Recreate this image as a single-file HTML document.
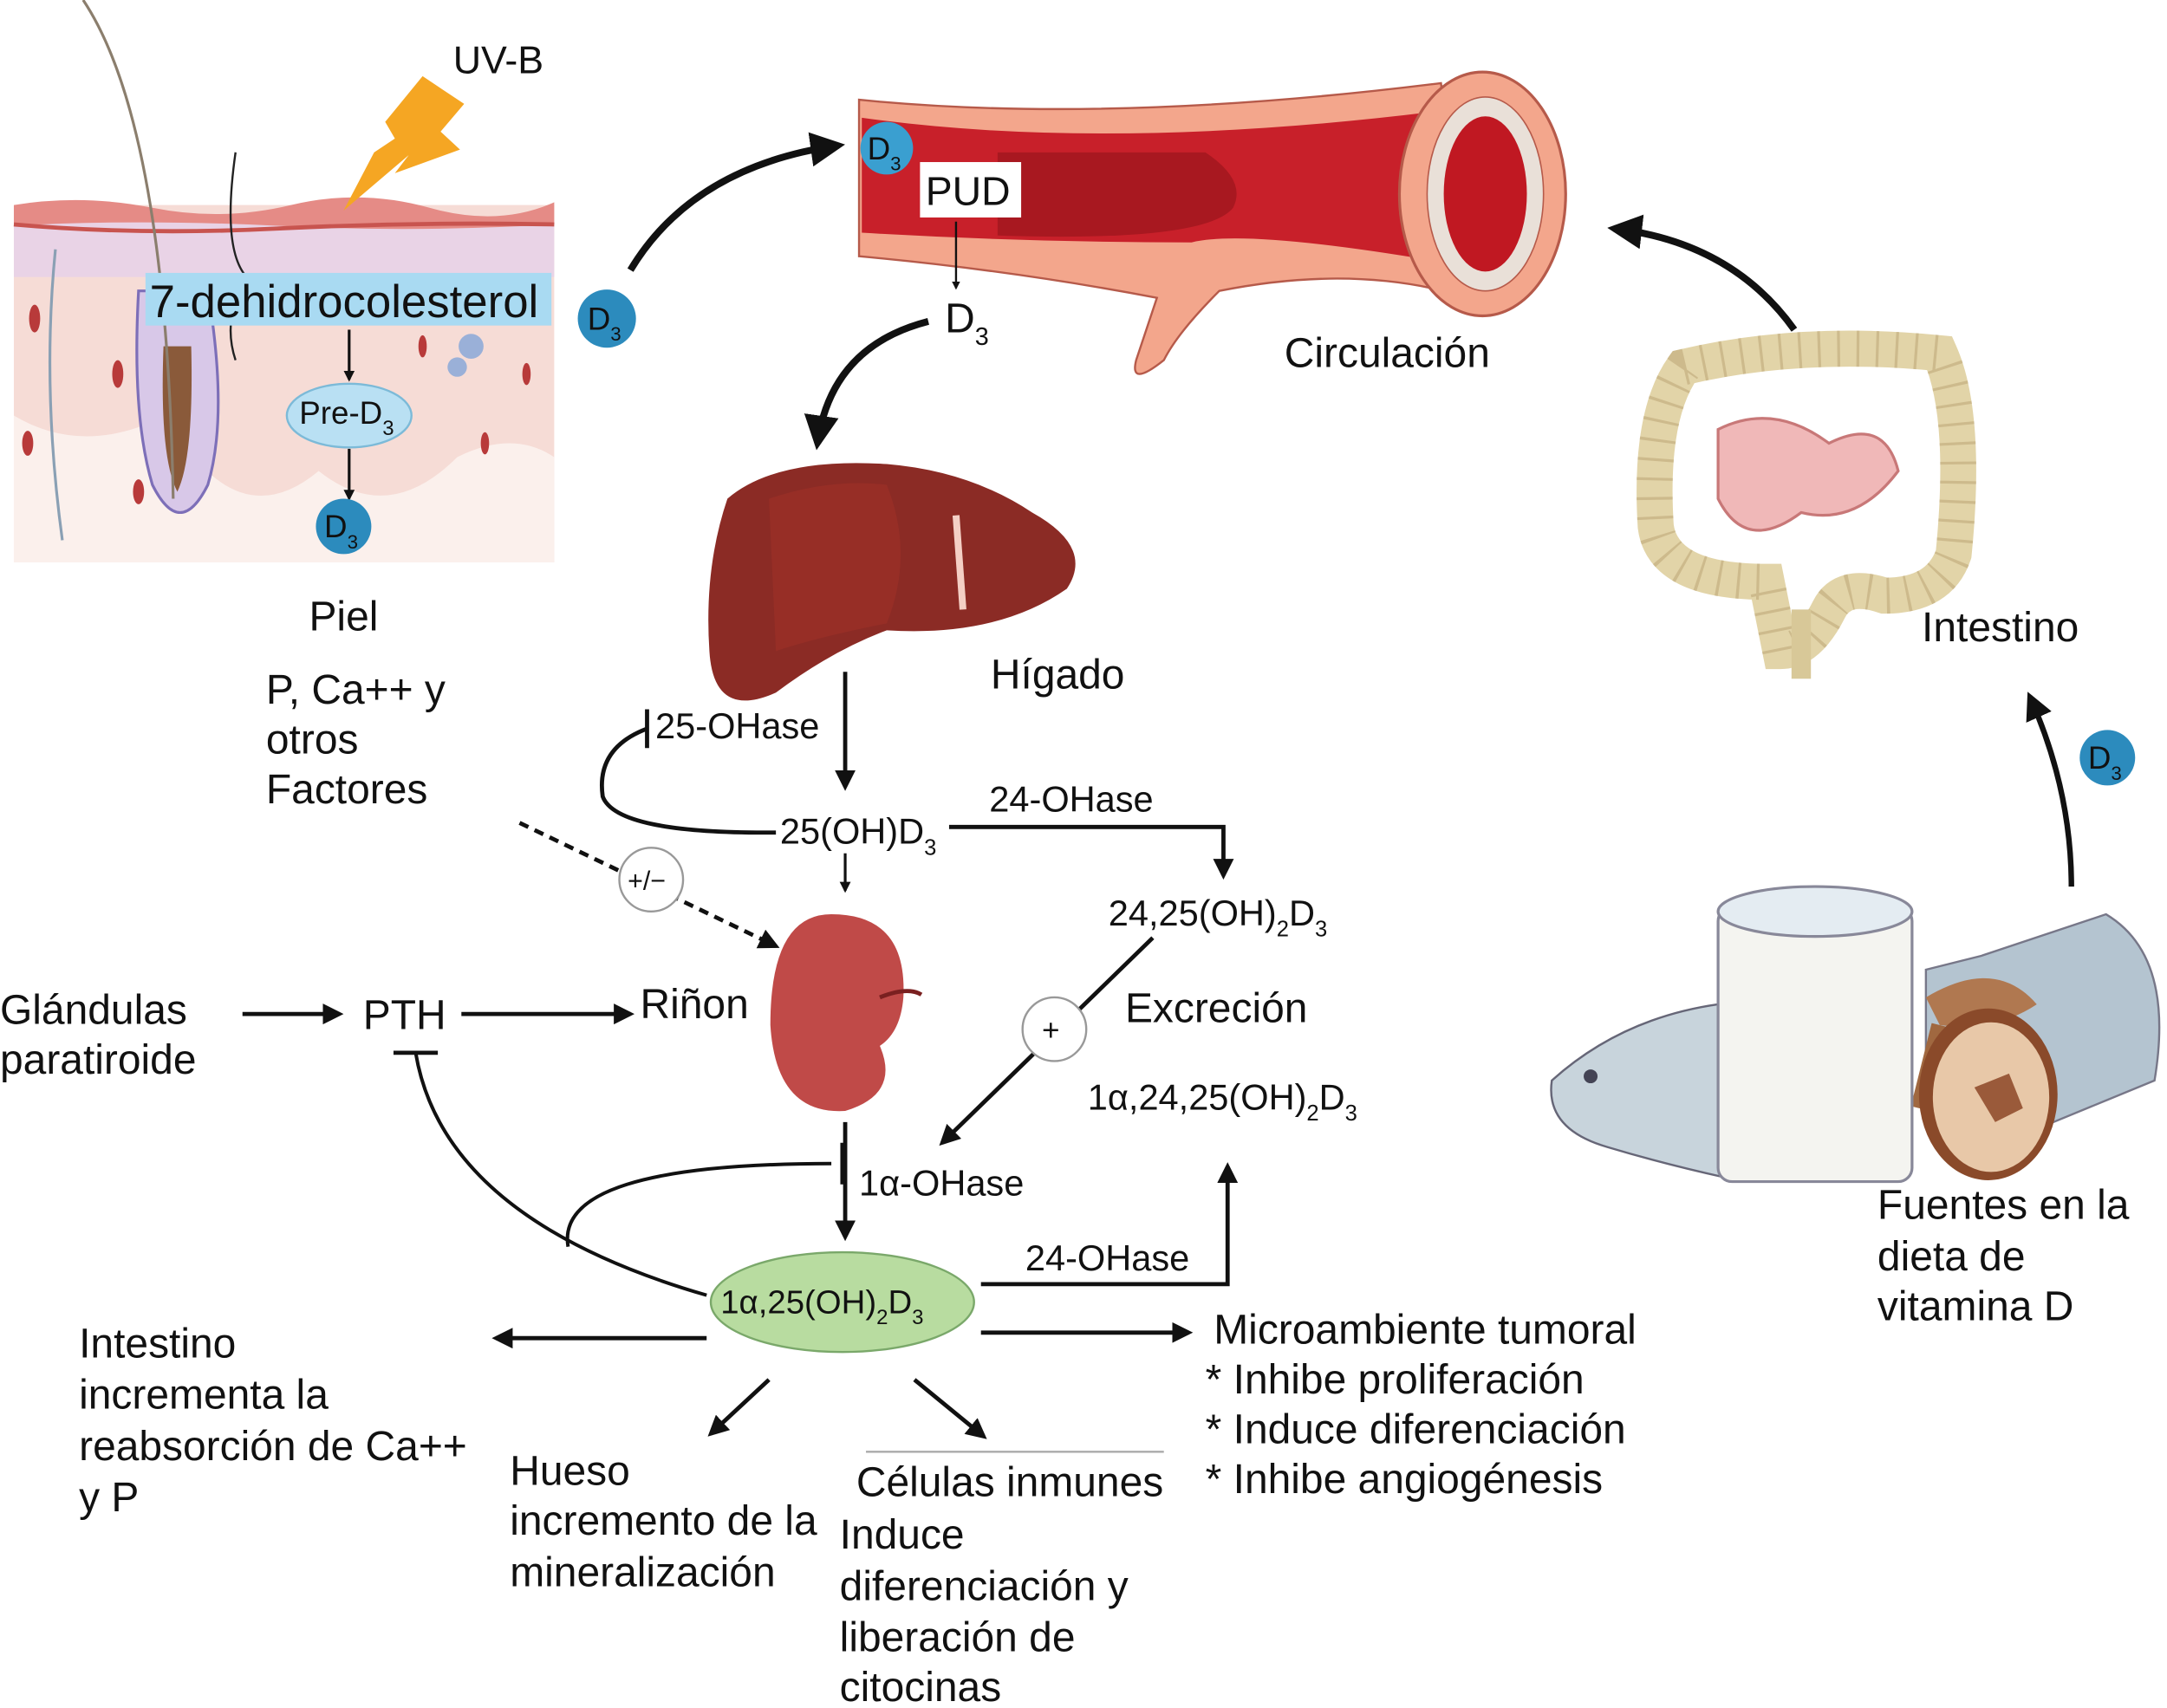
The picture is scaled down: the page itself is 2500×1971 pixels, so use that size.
<!DOCTYPE html>
<html><head><meta charset="utf-8"><style>
html,body{margin:0;padding:0;background:#fff;}
svg{display:block}
text{font-family:"Liberation Sans",Arial,sans-serif;fill:#111}
.l{font-size:30px}.s{font-size:26px}.c{font-size:23px}
</style></head><body>
<svg width="2500" height="1971" viewBox="0 0 1564 1233" preserveAspectRatio="none" xmlns="http://www.w3.org/2000/svg">
<defs>
<marker id="a" viewBox="0 0 10 10" refX="8" refY="5" markerWidth="5" markerHeight="5" orient="auto"><path d="M0,0L10,5L0,10z" fill="#111"/></marker>
<marker id="b" viewBox="0 0 10 10" refX="8" refY="5" markerWidth="4" markerHeight="4" orient="auto"><path d="M0,0L10,5L0,10z" fill="#111"/></marker>
</defs>
<!-- skin -->
<rect x="10" y="148" width="390" height="258" fill="#f6dcd6"/>
<rect x="10" y="160" width="390" height="40" fill="#e9d3e6"/>
<path d="M10,148 Q60,140 110,150 T210,148 T310,150 T400,146 L400,162 Q300,168 200,163 T10,163z" fill="#e58b86"/>
<path d="M10,162 Q100,170 200,165 T400,162" stroke="#c8544f" stroke-width="3" fill="none"/>
<path d="M10,300 Q60,330 120,300 Q170,390 230,340 Q280,380 330,330 Q370,310 400,330 L400,406 L10,406z" fill="#fbf0ec"/>
<path d="M100,210 Q95,300 110,350 Q130,390 150,350 Q165,300 150,210z" fill="#d8c8e8" stroke="#7d6fb8" stroke-width="2"/>
<path d="M118,250 Q115,330 128,355 Q140,330 138,250z" fill="#8a5a3a"/>
<path d="M60,0 Q120,90 125,360" stroke="#8b7e6d" stroke-width="2" fill="none"/>
<path d="M170,110 Q160,180 178,200 Q160,230 170,260" stroke="#222" stroke-width="1.5" fill="none"/>
<path d="M40,180 Q30,280 45,390" stroke="#8aa0b4" stroke-width="2" fill="none"/>
<g fill="#b83a3a"><ellipse cx="25" cy="230" rx="4" ry="10"/><ellipse cx="85" cy="270" rx="4" ry="10"/><ellipse cx="20" cy="320" rx="4" ry="9"/><ellipse cx="100" cy="355" rx="4" ry="9"/><ellipse cx="380" cy="270" rx="3" ry="8"/><ellipse cx="350" cy="320" rx="3" ry="8"/><ellipse cx="305" cy="250" rx="3" ry="8"/></g>
<circle cx="340" cy="250" r="9" fill="#9ab0d8"/><circle cx="330" cy="265" r="7" fill="#9ab0d8"/>
<!-- UV bolt -->
<polygon points="305,55 335,75 318,95 332,108 285,125 295,112 248,152 270,110 285,100 278,88" fill="#f5a623"/>
<text x="327" y="53" class="l" style="font-size:28px">UV-B</text>
<rect x="105" y="197" width="293" height="38" fill="#a9daf2"/>
<text x="108" y="229" style="font-size:33px">7-dehidrocolesterol</text>
<line x1="252" y1="238" x2="252" y2="274" stroke="#111" stroke-width="2" marker-end="url(#b)"/>
<ellipse cx="252" cy="300" rx="45" ry="23" fill="#b9e0f3" stroke="#7cbad8" stroke-width="1.5"/>
<text x="216" y="306" class="c">Pre-D<tspan font-size="15" dy="8">3</tspan></text>
<line x1="252" y1="324" x2="252" y2="360" stroke="#111" stroke-width="2" marker-end="url(#b)"/>
<circle cx="248" cy="380" r="20" fill="#2c8bbd"/><text x="234" y="388" class="c">D<tspan font-size="14" dy="8">3</tspan></text>
<circle cx="438" cy="230" r="21" fill="#2c8bbd"/><text x="424" y="238" class="c">D<tspan font-size="14" dy="8">3</tspan></text>
<text x="223" y="455" class="l">Piel</text>
<path d="M455,195 Q500,120 605,105" stroke="#111" stroke-width="5" fill="none" marker-end="url(#a)"/>
<!-- vessel -->
<path d="M620,72 Q800,90 1040,60 L1060,215 Q980,190 880,210 Q850,240 840,260 Q815,280 820,260 L835,215 Q730,195 620,185z" fill="#f3a68c" stroke="#b65a4a" stroke-width="1.5"/>
<path d="M622,85 Q800,110 1040,80 L1045,190 Q900,165 860,175 Q740,175 622,168z" fill="#c8202a"/>
<path d="M720,110 L870,110 Q900,130 890,150 Q870,175 720,170z" fill="#a81820"/>
<ellipse cx="1070" cy="140" rx="60" ry="88" fill="#f3a68c" stroke="#b65a4a" stroke-width="2"/>
<ellipse cx="1072" cy="140" rx="42" ry="70" fill="#e9e0d8" stroke="#b65a4a"/>
<ellipse cx="1072" cy="140" rx="30" ry="56" fill="#c01822"/>
<circle cx="640" cy="107" r="19" fill="#3a9fd0"/><text x="626" y="115" class="c">D<tspan font-size="14" dy="8">3</tspan></text>
<rect x="664" y="117" width="73" height="40" fill="#fff"/>
<text x="668" y="148" class="l" style="font-size:29px">PUD</text>
<line x1="690" y1="160" x2="690" y2="208" stroke="#111" stroke-width="1.5" marker-end="url(#b)"/>
<text x="682" y="240" class="l">D<tspan font-size="18" dy="9">3</tspan></text>
<text x="927" y="265" class="l">Circulación</text>
<path d="M670,232 Q600,250 590,320" stroke="#111" stroke-width="5" fill="none" marker-end="url(#a)"/>
<!-- liver -->
<path d="M525,360 Q560,330 640,335 Q700,340 745,370 Q790,395 770,425 Q720,460 640,455 Q600,470 560,500 Q515,520 512,470 Q508,410 525,360z" fill="#8b2b25"/>
<path d="M555,360 Q600,345 640,350 Q660,400 640,450 Q590,460 560,470z" fill="#a03028" opacity=".6"/>
<path d="M690,372 L695,440" stroke="#f4cfc5" stroke-width="5"/>
<text x="715" y="497" class="l">Hígado</text>
<line x1="610" y1="485" x2="610" y2="568" stroke="#111" stroke-width="3" marker-end="url(#a)"/>
<line x1="467" y1="512" x2="467" y2="540" stroke="#111" stroke-width="3"/>
<text x="473" y="533" class="s">25-OHase</text>
<path d="M467,526 Q430,540 435,575 Q445,602 560,601" stroke="#111" stroke-width="3" fill="none"/>
<text x="563" y="609" class="s">25(OH)D<tspan font-size="16" dy="8">3</tspan></text>
<path d="M685,597 L883,597 L883,632" stroke="#111" stroke-width="3" fill="none" marker-end="url(#a)"/>
<text x="714" y="586" class="s">24-OHase</text>
<text x="800" y="668" class="s">24,25(OH)<tspan font-size="16" dy="8">2</tspan><tspan dy="-8">D</tspan><tspan font-size="16" dy="8">3</tspan></text>
<line x1="610" y1="616" x2="610" y2="643" stroke="#111" stroke-width="2" marker-end="url(#b)"/>
<text x="192" y="508" class="l">P, Ca++ y</text><text x="192" y="544" class="l">otros</text><text x="192" y="580" class="l">Factores</text>
<path d="M375,594 L560,683" stroke="#111" stroke-width="3" stroke-dasharray="7,5" fill="none" marker-end="url(#a)"/>
<circle cx="470" cy="635" r="23" fill="#fff" stroke="#999" stroke-width="1.5"/><text x="453" y="642" style="font-size:19px">+/−</text>
<!-- kidney -->
<path d="M600,660 Q655,660 652,720 Q650,745 635,755 Q650,790 610,802 Q560,805 556,740 Q556,660 600,660z" fill="#c04a48"/>
<path d="M635,720 Q655,712 665,718" stroke="#7a2020" stroke-width="3" fill="none"/>
<text x="462" y="735" class="l">Riñon</text>
<text x="0" y="739" class="l">Glándulas</text><text x="0" y="775" class="l">paratiroide</text>
<line x1="175" y1="732" x2="245" y2="732" stroke="#111" stroke-width="3" marker-end="url(#a)"/>
<text x="262" y="743" class="l">PTH</text>
<line x1="333" y1="732" x2="455" y2="732" stroke="#111" stroke-width="3" marker-end="url(#a)"/>
<line x1="284" y1="760" x2="316" y2="760" stroke="#111" stroke-width="3"/>
<path d="M300,760 Q320,880 510,935" stroke="#111" stroke-width="2.5" fill="none"/>
<path d="M410,900 Q400,840 600,840" stroke="#111" stroke-width="2.5" fill="none"/>
<line x1="608" y1="825" x2="608" y2="855" stroke="#111" stroke-width="3"/>
<text x="812" y="738" class="l">Excreción</text>
<line x1="832" y1="677" x2="680" y2="825" stroke="#111" stroke-width="3" marker-end="url(#a)"/>
<circle cx="761" cy="743" r="23" fill="#fff" stroke="#999" stroke-width="1.5"/><text x="752" y="751" style="font-size:22px">+</text>
<text x="785" y="801" class="s">1α,24,25(OH)<tspan font-size="16" dy="8">2</tspan><tspan dy="-8">D</tspan><tspan font-size="16" dy="8">3</tspan></text>
<text x="620" y="863" class="s">1α-OHase</text>
<line x1="610" y1="810" x2="610" y2="893" stroke="#111" stroke-width="3" marker-end="url(#a)"/>
<ellipse cx="608" cy="940" rx="95" ry="36" fill="#b8dca0" stroke="#7aa86a" stroke-width="1.5"/>
<text x="520" y="948" class="s" style="font-size:24px">1α,25(OH)<tspan font-size="15" dy="8">2</tspan><tspan dy="-8">D</tspan><tspan font-size="15" dy="8">3</tspan></text>
<path d="M708,927 L886,927 L886,842" stroke="#111" stroke-width="3" fill="none" marker-end="url(#a)"/>
<text x="740" y="917" class="s">24-OHase</text>
<line x1="708" y1="962" x2="858" y2="962" stroke="#111" stroke-width="3" marker-end="url(#a)"/>
<line x1="510" y1="966" x2="358" y2="966" stroke="#111" stroke-width="3" marker-end="url(#a)"/>
<line x1="555" y1="996" x2="513" y2="1035" stroke="#111" stroke-width="3" marker-end="url(#a)"/>
<line x1="660" y1="996" x2="710" y2="1037" stroke="#111" stroke-width="3" marker-end="url(#a)"/>
<line x1="625" y1="1048" x2="840" y2="1048" stroke="#aaa" stroke-width="1.5"/>
<text x="876" y="970" class="l">Microambiente tumoral</text>
<text x="870" y="1006" class="l">* Inhibe proliferación</text>
<text x="870" y="1042" class="l">* Induce diferenciación</text>
<text x="870" y="1078" class="l">* Inhibe angiogénesis</text>
<text x="57" y="980" class="l">Intestino</text><text x="57" y="1017" class="l">incrementa la</text><text x="57" y="1054" class="l">reabsorción de Ca++</text><text x="57" y="1091" class="l">y P</text>
<text x="368" y="1072" class="l">Hueso</text><text x="368" y="1108" class="l">incremento de la</text><text x="368" y="1145" class="l">mineralización</text>
<text x="618" y="1080" class="l">Células inmunes</text>
<text x="606" y="1118" class="l">Induce</text><text x="606" y="1155" class="l">diferenciación y</text><text x="606" y="1192" class="l">liberación de</text><text x="606" y="1228" class="l">citocinas</text>
<!-- intestine -->
<path d="M1215,265 Q1300,245 1400,255 Q1420,300 1410,400 Q1400,430 1360,430 Q1330,420 1320,440 Q1305,470 1285,470 L1275,420 Q1200,420 1195,380 Q1190,300 1215,265z" fill="none" stroke="#e2d4a8" stroke-width="26"/>
<path d="M1215,265 Q1300,245 1400,255 Q1420,300 1410,400 Q1400,430 1360,430 Q1330,420 1320,440 Q1305,470 1285,470 L1275,420 Q1200,420 1195,380 Q1190,300 1215,265z" fill="none" stroke="#b8a070" stroke-width="26" stroke-dasharray="2,12" opacity=".5"/>
<path d="M1240,310 Q1280,290 1320,320 Q1360,300 1370,340 Q1340,380 1300,370 Q1260,400 1240,360z" fill="#f0b8b8" stroke="#c87878" stroke-width="2"/>
<path d="M1300,440 L1300,490" stroke="#d8c898" stroke-width="14"/>
<text x="1387" y="463" class="l">Intestino</text>
<path d="M1295,238 Q1250,175 1165,165" stroke="#111" stroke-width="5" fill="none" marker-end="url(#a)"/>
<path d="M1495,640 Q1495,570 1465,503" stroke="#111" stroke-width="4" fill="none" marker-end="url(#a)"/>
<circle cx="1521" cy="547" r="20" fill="#2c8bbd"/><text x="1507" y="555" class="c">D<tspan font-size="14" dy="8">3</tspan></text>
<!-- food -->
<path d="M1390,700 L1430,690 L1520,660 Q1570,690 1555,780 L1470,815 L1390,800z" fill="#b4c4d0" stroke="#778" stroke-width="1.5"/>
<path d="M1240,725 Q1170,735 1120,780 Q1115,815 1160,828 Q1200,840 1245,850z" fill="#c8d4dc" stroke="#667" stroke-width="1.5"/>
<circle cx="1148" cy="777" r="5" fill="#445"/>
<path d="M1390,720 Q1440,690 1470,725 Q1440,745 1400,740z" fill="#b07850"/>
<path d="M1400,740 L1385,800" stroke="#a06840" stroke-width="12"/>
<ellipse cx="1435" cy="790" rx="50" ry="62" fill="#8a4a2a"/><ellipse cx="1437" cy="792" rx="42" ry="54" fill="#e8c8a8"/>
<path d="M1425,785 L1450,775 L1460,800 L1440,810z" fill="#9a5a3a"/>
<rect x="1240" y="655" width="140" height="198" rx="10" fill="#f4f4f0" stroke="#889" stroke-width="2"/>
<ellipse cx="1310" cy="658" rx="70" ry="18" fill="#e4ecf2" stroke="#889" stroke-width="2"/>
<text x="1355" y="880" class="l">Fuentes en la</text><text x="1355" y="917" class="l">dieta de</text><text x="1355" y="953" class="l">vitamina D</text>
</svg>
</body></html>
